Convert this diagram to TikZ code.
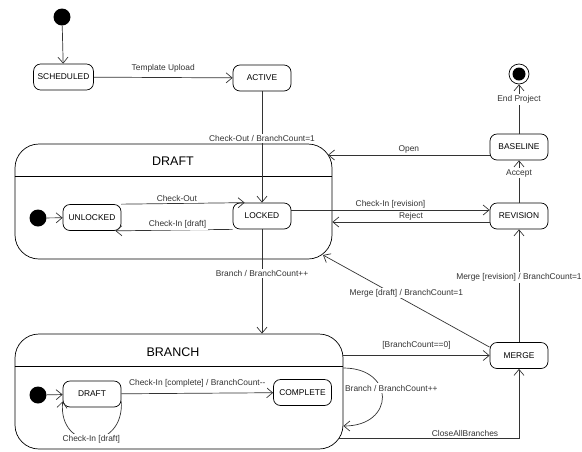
\documentclass[tikz,border=0pt]{standalone}
\usepackage{fontspec}
\setmainfont{Liberation Sans}
\usepackage{tikz}
\usetikzlibrary{arrows.meta}

\begin{document}
\begin{tikzpicture}[x=1pt, y=-1pt, line width=0.7pt, font=\fontsize{8.4}{10}\selectfont, >={Straight Barb[length=6pt,width=10pt]}]
	\tikzstyle{State}	= [draw, rounded corners=7pt, minimum width=58pt, minimum height=26pt, inner sep=4pt]
	\tikzstyle{Super}	= [draw, rounded corners=24pt]
	\tikzstyle{Title}	= [font=\fontsize{12.5}{15}\selectfont]
	\tikzstyle{Initial}	= [circle, fill=black, minimum size=17pt, inner sep=0pt]
	\tikzstyle{Final}	= [circle, draw, minimum size=20pt, inner sep=0pt, path picture={\fill (path picture bounding box.center) circle (6.5pt);}]
	\tikzstyle{Label}	= [fill=white, inner sep=1.5pt]
	\tikzstyle{Trans}	= [->, black!80]

	\useasboundingbox (0,0) rectangle (582,451);

	% top row
	\node (init) at (62,17) [Initial] {};
	\node (scheduled) at (63.5,77) [State] {SCHEDULED};
	\node (active) at (262,78) [State] {ACTIVE};
	\node (final) at (519,74) [Final] {};
	\node (baseline) at (519,147) [State] {BASELINE};

	% DRAFT superstate
	\node (draft) at (173.5,201.5) [Super, minimum width=317pt, minimum height=115pt] {};
	\node (draftTitle) at (173,161) [Title] {DRAFT};
	\draw (draft.west |- 0,176) -- (draft.east |- 0,176);
	\node (initDraft) at (38,218) [Initial] {};
	\node (unlocked) at (92,217.5) [State] {UNLOCKED};
	\node (locked) at (262,216) [State] {LOCKED};
	\node (revision) at (519,216) [State] {REVISION};

	% BRANCH superstate
	\node (branch) at (179,391.5) [Super, minimum width=328pt, minimum height=115pt] {};
	\node (branchTitle) at (173,352) [Title] {BRANCH};
	\draw (branch.west |- 0,366) -- (branch.east |- 0,366);
	\node (initBranch) at (38,395) [Initial] {};
	\node (branchDraft) at (92,394) [State] {DRAFT};
	\node (complete) at (302.5,392.5) [State] {COMPLETE};
	\node (merge) at (519,355.5) [State] {MERGE};

	\coordinate (openEnd) at (328,155);
	\coordinate (mergeEnd) at (323,255);
	\coordinate (closeStart) at (339,438);
	\coordinate (rejectStart) at ([yshift=-6pt]revision.west);

	% transitions
	\draw [Trans] (init) to (scheduled);
	\draw [Trans] (scheduled) to node [Label, above=3pt] {Template Upload} (active);
	\draw [Trans] (active) to node [Label, pos=0.42] {Check-Out / BranchCount=1} (locked);
	\draw [Trans] (initDraft) to (unlocked);
	\draw [Trans] (unlocked.north east) to node [Label, above, pos=0.45] {Check-Out} ([xshift=12pt]locked.north west);
	\draw [Trans] (locked.south west) to node [Label, above, pos=0.47] {Check-In [draft]} ([xshift=-6pt]unlocked.south east);
	\draw [Trans] ([yshift=6pt]locked.east) to node [Label, above] {Check-In [revision]} ([yshift=6pt]revision.west);
	\draw [Trans] (rejectStart) to node [Label, above] {Reject} (rejectStart -| draft.east);
	\draw [Trans] ([yshift=-8pt]baseline.west) to node [Label, above] {Open} (openEnd);
	\draw [Trans] (baseline) to node [Label, pos=0.7] {End Project} (final);
	\draw [Trans] (revision) to node [Label, pos=0.7] {Accept} (baseline);
	\draw [Trans] (locked) to node [Label, pos=0.42] {Branch / BranchCount++} (locked |- branch.north);
	\draw [Trans] (merge) to node [Label, pos=0.575] {Merge [revision] / BranchCount=1} (revision);
	\draw [Trans] ([yshift=-5pt]merge.north west) to node [Label, pos=0.5, yshift=8pt] {Merge [draft] / BranchCount=1} (mergeEnd);
	\draw [Trans] (merge.west -| branch.east) to node [Label, above=4pt] {[BranchCount==0]} (merge);
	\draw [Trans] ([yshift=23.5pt]branch.east) .. controls +(52,0) and +(52,0) .. ([yshift=-34.5pt]branch.east) node [Label, pos=0.5, xshift=9pt, yshift=9pt] {Branch / BranchCount++};
	\draw [Trans] (closeStart) -| node [Label, above, pos=0.35] {CloseAllBranches} (merge);
	\draw [Trans] (initBranch) to (branchDraft);
	\draw [Trans] (branchDraft) to node [Label, above=4pt] {Check-In [complete] / BranchCount-{}-} (complete);
	\draw [Trans] ([yshift=6pt]branchDraft.south east) .. controls (124,452) and (58,452) .. ([yshift=6pt]branchDraft.south west) node [Label, pos=0.5] {Check-In [draft]};
\end{tikzpicture}
\end{document}
